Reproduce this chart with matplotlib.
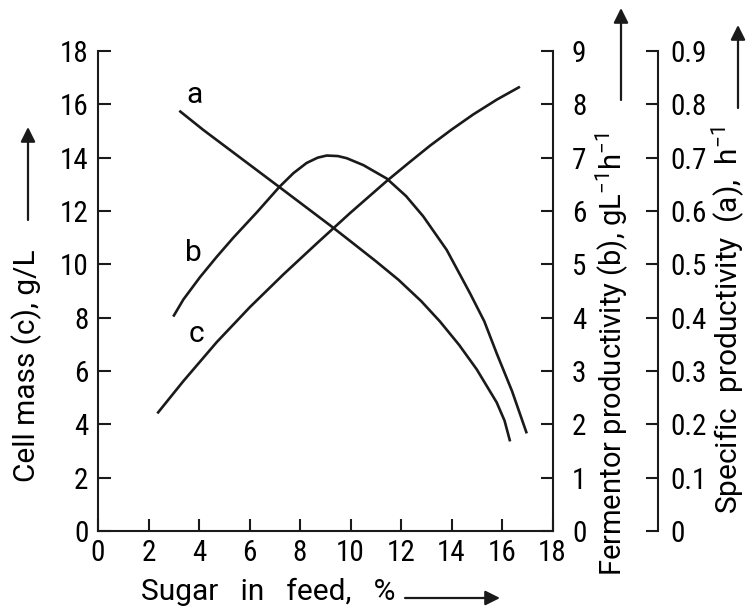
import matplotlib
matplotlib.use("Agg")
import matplotlib.pyplot as plt
from matplotlib import font_manager

# pick fonts that are installed
_names = {f.name for f in font_manager.fontManager.ttflist}
TICKFONT = 'Liberation Sans'
for cand in ['Liberation Sans Narrow', 'Roboto Condensed', 'DejaVu Sans Condensed']:
    if cand in _names:
        TICKFONT = cand
        break
LABFONT = 'Roboto' if 'Roboto' in _names else 'Liberation Sans'

plt.rcParams['font.family'] = [LABFONT, 'DejaVu Sans']
plt.rcParams['mathtext.fontset'] = 'custom'
plt.rcParams['mathtext.rm'] = LABFONT
plt.rcParams['mathtext.it'] = LABFONT

# ---- data ----
sugar_a = [3.22, 4.17, 7.18, 9.25, 9.98, 11.0, 11.9, 12.8, 13.54, 14.3, 15.0, 15.79, 16.1, 16.32]
spec_prod_a = [0.788, 0.752, 0.645, 0.571, 0.544, 0.506, 0.471, 0.431, 0.393, 0.349, 0.303,
               0.241, 0.207, 0.168]

sugar_b = [2.98, 3.38, 4.04, 4.70, 5.36, 6.3, 7.18, 7.74, 8.26, 8.7, 9.06, 9.5, 9.85, 10.51,
           11.43, 12.2, 12.88, 13.81, 14.73, 15.3, 15.79, 16.4, 16.98]
ferm_prod_b = [4.02, 4.34, 4.76, 5.14, 5.50, 5.98, 6.45, 6.71, 6.90, 7.00, 7.04, 7.03, 6.99,
               6.86, 6.61, 6.28, 5.90, 5.27, 4.46, 3.93, 3.33, 2.62, 1.83]

sugar_c = [2.35, 3.38, 4.70, 6.02, 7.34, 8.66, 9.98, 11.43, 12.3, 13.15, 14.0, 14.86, 15.8, 16.71]
cell_mass_c = [4.41, 5.62, 7.08, 8.40, 9.62, 10.78, 11.92, 13.12, 13.80, 14.45, 15.05, 15.62,
               16.18, 16.66]

x_ticks = [0, 2, 4, 6, 8, 10, 12, 14, 16, 18]
left_ticks = [0, 2, 4, 6, 8, 10, 12, 14, 16, 18]
ferm_ticks = [0, 1, 2, 3, 4, 5, 6, 7, 8, 9]
spec_ticks = [0, 0.1, 0.2, 0.3, 0.4, 0.5, 0.6, 0.7, 0.8, 0.9]
spec_labels = ['0', '0.1', '0.2', '0.3', '0.4', '0.5', '0.6', '0.7', '0.8', '0.9']

W, H = 746, 612
FS = 21.5
TFS = 21
LC = '#1a1a1a'

fig = plt.figure(figsize=(W / 100, H / 100), dpi=100)
ax = fig.add_axes([98 / W, 81 / H, 454.5 / W, 480 / H])
ax_b = ax.twinx()
ax_a = ax.twinx()

ax.set_xlim(0, 18)
ax.set_ylim(0, 18)
ax_b.set_ylim(0, 9)
ax_a.set_ylim(0, 0.9)

kw = dict(color=LC, lw=1.9, solid_capstyle='butt', solid_joinstyle='round')
ax.plot(sugar_c, cell_mass_c, **kw)
ax_b.plot(sugar_b, ferm_prod_b, **kw)
ax_a.plot(sugar_a, spec_prod_a, **kw)

ax.text(3.84, 16.35, 'a', fontsize=FS, ha='center', va='center')
ax.text(3.76, 10.42, 'b', fontsize=FS, ha='center', va='center')
ax.text(3.90, 7.39, 'c', fontsize=FS, ha='center', va='center')

# spines
for s in ['top', 'right']:
    ax.spines[s].set_visible(False)
for s in ['top', 'left', 'bottom']:
    ax_b.spines[s].set_visible(False)
    ax_a.spines[s].set_visible(False)
ax_a.spines['right'].set_position(('axes', 1.232))
for a_ in (ax, ax_b, ax_a):
    for s in a_.spines.values():
        s.set_linewidth(1.5)
        s.set_color(LC)

ax.set_xticks(x_ticks)
ax.set_yticks(left_ticks)
ax_b.set_yticks(ferm_ticks)
ax_a.set_yticks(spec_ticks)
ax_a.set_yticklabels(spec_labels)

ax.tick_params(axis='both', direction='in', length=9, width=1.5, labelsize=TFS, color=LC)
ax.tick_params(axis='x', pad=6)
ax.tick_params(axis='y', pad=7)
ax_b.tick_params(axis='y', direction='in', length=9, width=1.5, labelsize=TFS, pad=14, color=LC)
ax_a.tick_params(axis='y', direction='in', length=9, width=1.5, labelsize=TFS, pad=9, color=LC)
for a_ in (ax, ax_b, ax_a):
    for lab in a_.get_xticklabels() + a_.get_yticklabels():
        lab.set_fontfamily([TICKFONT, 'DejaVu Sans'])


def fx(px):
    return px / W


def fy(py):
    return (H - py) / H


# axis labels
fig.text(fx(27), fy(482), 'Cell mass (c), g/L', rotation=90, fontsize=FS,
         ha='center', va='bottom')
fig.text(fx(612), fy(576), 'Fermentor productivity (b), gL$^{-1}$h$^{-1}$', rotation=90,
         fontsize=21, ha='center', va='bottom')
fig.text(fx(728), fy(514), 'Specific  productivity  (a),  h$^{-1}$', rotation=90,
         fontsize=FS, ha='center', va='bottom')
fig.text(fx(141), fy(592), 'Sugar   in   feed,   %', fontsize=FS, ha='left', va='center')

arrow = dict(arrowstyle='-|>', lw=1.6, color=LC, mutation_scale=22, shrinkA=0, shrinkB=0)
fig.add_artist(matplotlib.patches.FancyArrowPatch((fx(28), fy(220)), (fx(28), fy(127)),
                                                  transform=fig.transFigure, **arrow))
fig.add_artist(matplotlib.patches.FancyArrowPatch((fx(621), fy(100)), (fx(621), fy(8)),
                                                  transform=fig.transFigure, **arrow))
fig.add_artist(matplotlib.patches.FancyArrowPatch((fx(738), fy(108)), (fx(738), fy(25)),
                                                  transform=fig.transFigure, **arrow))
fig.add_artist(matplotlib.patches.FancyArrowPatch((fx(405), fy(598)), (fx(500), fy(598)),
                                                  transform=fig.transFigure, **arrow))

fig.savefig('out.png', dpi=100)
